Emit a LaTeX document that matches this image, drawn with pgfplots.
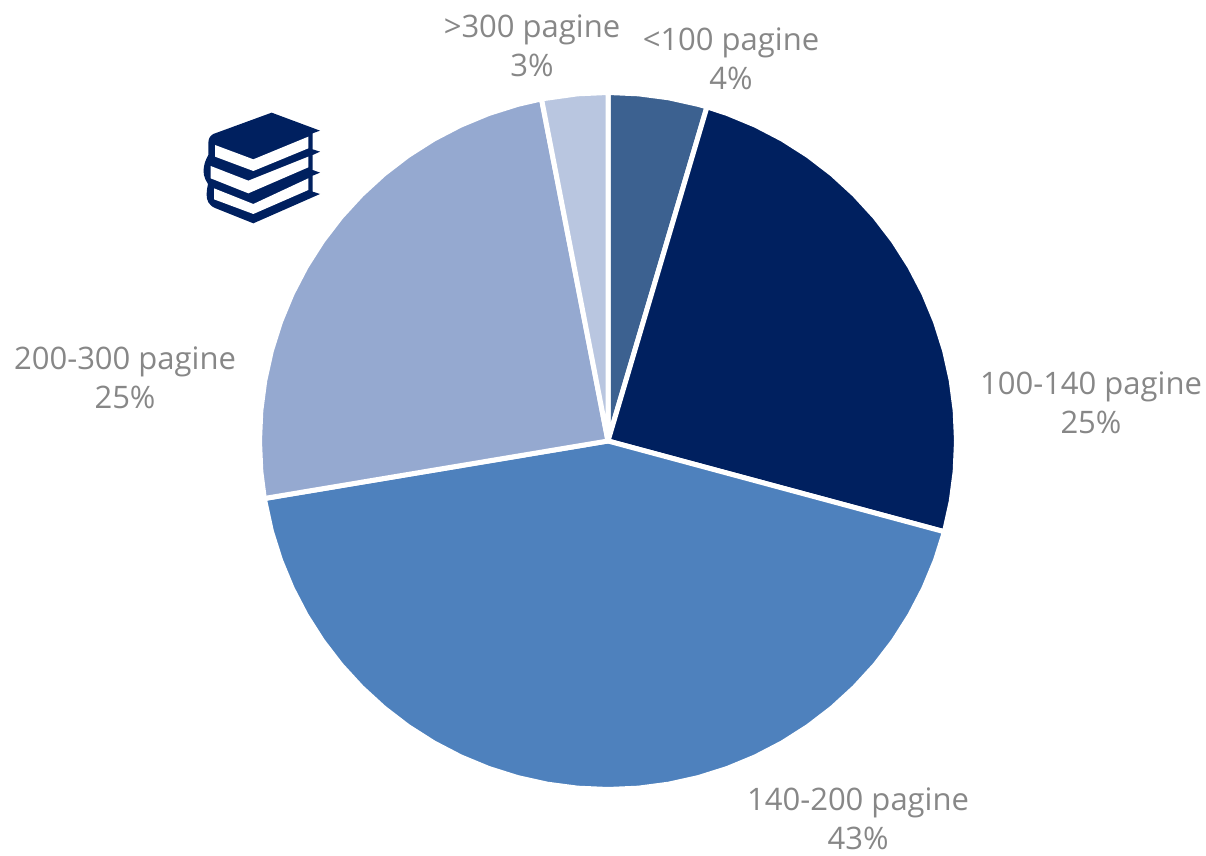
\documentclass[border=0pt]{standalone}
\usepackage{pgfplots}
\pgfplotsset{compat=1.18}
\usepackage{fontspec}
\setmainfont{Open Sans}
\definecolor{sA}{HTML}{3C6190}
\definecolor{sB}{HTML}{00205F}
\definecolor{sC}{HTML}{4E81BD}
\definecolor{sD}{HTML}{95A9D0}
\definecolor{sE}{HTML}{B9C6E0}
\definecolor{lab}{HTML}{878787}
\tikzset{lbl/.style={text=lab, align=center, inner sep=0pt, font=\fontsize{15.5}{19.5}\selectfont}}
\begin{document}
\begin{tikzpicture}
\begin{axis}[
  scale only axis, width=603pt, height=428pt,
  xmin=-1.7446, xmax=1.7159, ymin=-1.1908, ymax=1.2654,
  hide axis, clip=false,
  every axis plot/.append style={line width=2.5pt, draw=white, line join=round},
]
% shares: 4.6, 24.6, 43.2, 24.5, 3.1 (percent), clockwise from the top; points are (angle, radius)
\addplot[fill=sA, data cs=polar] coordinates {(0,0) (90,1) (85,1) (80,1) (75,1) (73.5,1)} -- cycle;
\addplot[fill=sB, data cs=polar] coordinates {(0,0) (73.5,1) (70,1) (65,1) (60,1) (55,1) (50,1) (45,1) (40,1) (35,1) (30,1) (25,1) (20,1) (15,1) (10,1) (5,1) (0,1) (-5,1) (-10,1) (-15.1,1)} -- cycle;
\addplot[fill=sC, data cs=polar] coordinates {(0,0) (-15.1,1) (-20,1) (-25,1) (-30,1) (-35,1) (-40,1) (-45,1) (-50,1) (-55,1) (-60,1) (-65,1) (-70,1) (-75,1) (-80,1) (-85,1) (-90,1) (-95,1) (-100,1) (-105,1) (-110,1) (-115,1) (-120,1) (-125,1) (-130,1) (-135,1) (-140,1) (-145,1) (-150,1) (-155,1) (-160,1) (-165,1) (-170.5,1)} -- cycle;
\addplot[fill=sD, data cs=polar] coordinates {(0,0) (-170.5,1) (-175,1) (-180,1) (-185,1) (-190,1) (-195,1) (-200,1) (-205,1) (-210,1) (-215,1) (-220,1) (-225,1) (-230,1) (-235,1) (-240,1) (-245,1) (-250,1) (-255,1) (-259,1)} -- cycle;
\addplot[fill=sE, data cs=polar] coordinates {(0,0) (-259,1) (-265,1) (-270,1)} -- cycle;
\node[lbl] at (axis cs:-0.2181,1.1334) {>300 pagine\\3\%};
\node[lbl] at (axis cs:0.3529,1.0961) {<100 pagine\\4\%};
\node[lbl] at (axis cs:1.3859,0.1090) {100-140 pagine\\25\%};
\node[lbl] at (axis cs:0.7174,-1.0847) {140-200 pagine\\43\%};
\node[lbl] at (axis cs:-1.3859,0.1808) {200-300 pagine\\25\%};
\end{axis}
\path (0,0) rectangle (603pt,428pt);
\begin{scope}[shift={(95pt,373pt)}, x=0.16667pt, y=-0.16667pt]
  \fill[sB] (245,8) -- (390,62) -- (368,70) -- (368,118) -- (390,125) -- (368,135) -- (368,180) -- (390,188) -- (368,197) -- (368,245) -- (390,252) -- (190,340) -- (75,294) .. controls (55,285) and (50,270) .. (50,255) .. controls (50,240) and (52,232) .. (54,222) .. controls (42,205) and (38,185) .. (42,170) .. controls (44,155) and (50,145) .. (55,135) -- (55,100) .. controls (55,85) and (60,78) .. (70,72) -- cycle;
  \fill[white] (75,105) -- (190,148) -- (355,80) -- (355,115) -- (190,183) -- (75,140) -- cycle;
  \fill[white] (62,168) -- (175,212) -- (355,140) -- (355,172) -- (175,250) -- (62,205) -- cycle;
  \fill[white] (72,235) -- (190,282) -- (355,205) -- (355,240) -- (190,312) -- (72,268) -- cycle;
\end{scope}
\end{tikzpicture}
\end{document}
